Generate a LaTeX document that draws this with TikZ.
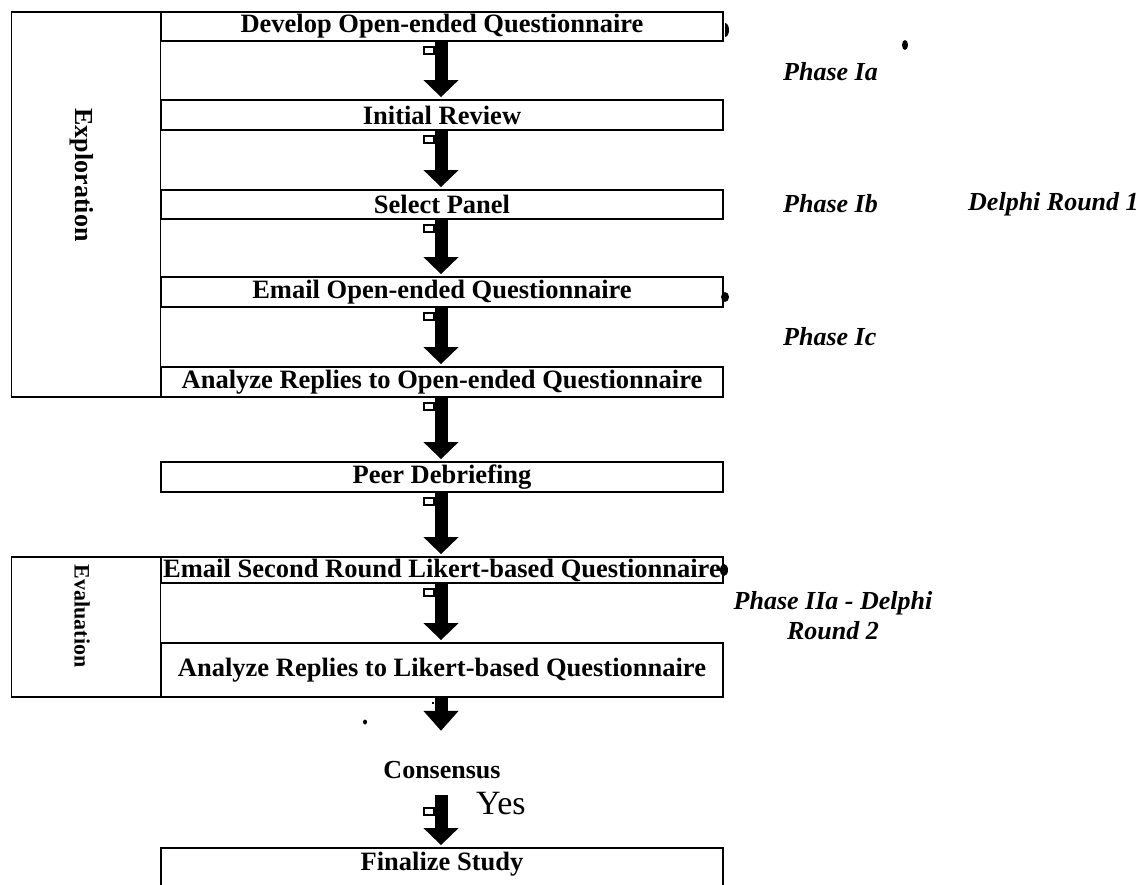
\documentclass[tikz,border=0pt]{standalone}
\usepackage{fontspec}
\setmainfont{Liberation Serif}
\usetikzlibrary{arrows.meta}
\begin{document}
\begin{tikzpicture}[x=1pt,y=-1pt,
  frame/.style={draw=black,line width=1.8pt},
  stepbox/.style={frame,minimum width=562pt,inner sep=0pt,
    font=\fontsize{26.5}{28}\selectfont\bfseries},
  sidebox/.style={frame,minimum width=149pt,inner sep=0pt},
  sidelabel/.style={rotate=-90,inner sep=0pt,font=\fontsize{26}{28}\selectfont\bfseries},
  phaselabel/.style={inner sep=0pt,font=\fontsize{26}{30}\selectfont\bfseries\itshape},
  blockarrow/.style={line width=13pt,-{Triangle[width=34pt,length=17pt]},shorten >=2pt},
  tab/.style={draw=black,line width=2pt},
  blob/.style={fill=black}
]
\useasboundingbox (0,0) rectangle (1145,885);
\coordinate (ax) at (441,0);

% side boxes
\node[sidebox,minimum height=385pt] (expbox) at (86,204.5) {};
\node[sidelabel] (explabel) at (82,175) {Exploration};
\node[sidebox,minimum height=140pt] (evabox) at (86,627) {};
\node[sidelabel,font=\fontsize{22}{24}\selectfont\bfseries] (evalabel) at (82,616) {Evaluation};

% step boxes
\node[stepbox,minimum height=29pt] (dev) at (442,26.5) {Develop Open-ended Questionnaire};
\node[stepbox,minimum height=30pt] (init) at (442,115) {Initial Review};
\node[stepbox,minimum height=29pt] (sel) at (442,204.5) {Select Panel};
\node[stepbox,minimum height=30pt] (em1) at (442,292) {Email Open-ended Questionnaire};
\node[stepbox,minimum height=30pt] (an1) at (442,382) {Analyze Replies to Open-ended Questionnaire};
\node[stepbox,minimum height=30pt] (peer) at (442,477) {Peer Debriefing};
\node[stepbox,minimum height=26pt] (em2) at (442,570) {Email Second Round Likert-based Questionnaire};
\node[stepbox,minimum height=54pt] (an2) at (442,670) {Analyze Replies to Likert-based Questionnaire};
\node[inner sep=0pt,minimum height=26pt,font=\fontsize{26}{28}\selectfont\bfseries] (cons) at (442,770) {Consensus};
\node[stepbox,minimum height=40pt,text depth=14pt] (fin) at (442,868) {Finalize Study};
\node[inner sep=0pt,anchor=west,font=\fontsize{34}{36}\selectfont] (yes) at (476,804) {Yes};

% arrows
\draw[blockarrow] (dev.south -| ax) -- (init.north -| ax);
\draw[blockarrow] (init.south -| ax) -- (sel.north -| ax);
\draw[blockarrow] (sel.south -| ax) -- (em1.north -| ax);
\draw[blockarrow] (em1.south -| ax) -- (an1.north -| ax);
\draw[blockarrow] (an1.south -| ax) -- (peer.north -| ax);
\draw[blockarrow] (peer.south -| ax) -- (em2.north -| ax);
\draw[blockarrow] (em2.south -| ax) -- (an2.north -| ax);
\draw[blockarrow,-{Triangle[width=34pt,length=20pt]},shorten >=26pt] (an2.south -| ax) -- (cons.north -| ax);
\draw[blockarrow,shorten <=12pt] (cons.south -| ax) -- (fin.north -| ax);

% small tabs at arrow tops
\foreach \y in {47,136,225,313,403,498,589,808}
  \draw[tab] (424,\y) rectangle (434,\y+7);
\draw[tab] (432,703) -- (434,703);

% blobs
\fill[blob] (725,23) arc (90:-90:4pt and 7pt) -- cycle;
\fill[blob] (905,45) ellipse (3pt and 5pt);
\fill[blob] (725,297) ellipse (4pt and 5pt);
\fill[blob] (724,570) ellipse (4pt and 6pt);
\fill[blob] (365,722) ellipse (2pt and 2.5pt);

% phase labels
\node[phaselabel,anchor=west] (pia) at (783,72) {Phase Ia};
\node[phaselabel,anchor=west] (pib) at (783,204) {Phase Ib};
\node[phaselabel,anchor=west] (dr1) at (968,204) {Delphi Round 1};
\node[phaselabel,anchor=west] (pic) at (783,337) {Phase Ic};
\node[phaselabel,align=center] (piia) at (833,616) {Phase IIa - Delphi\\Round 2};
\end{tikzpicture}
\end{document}
